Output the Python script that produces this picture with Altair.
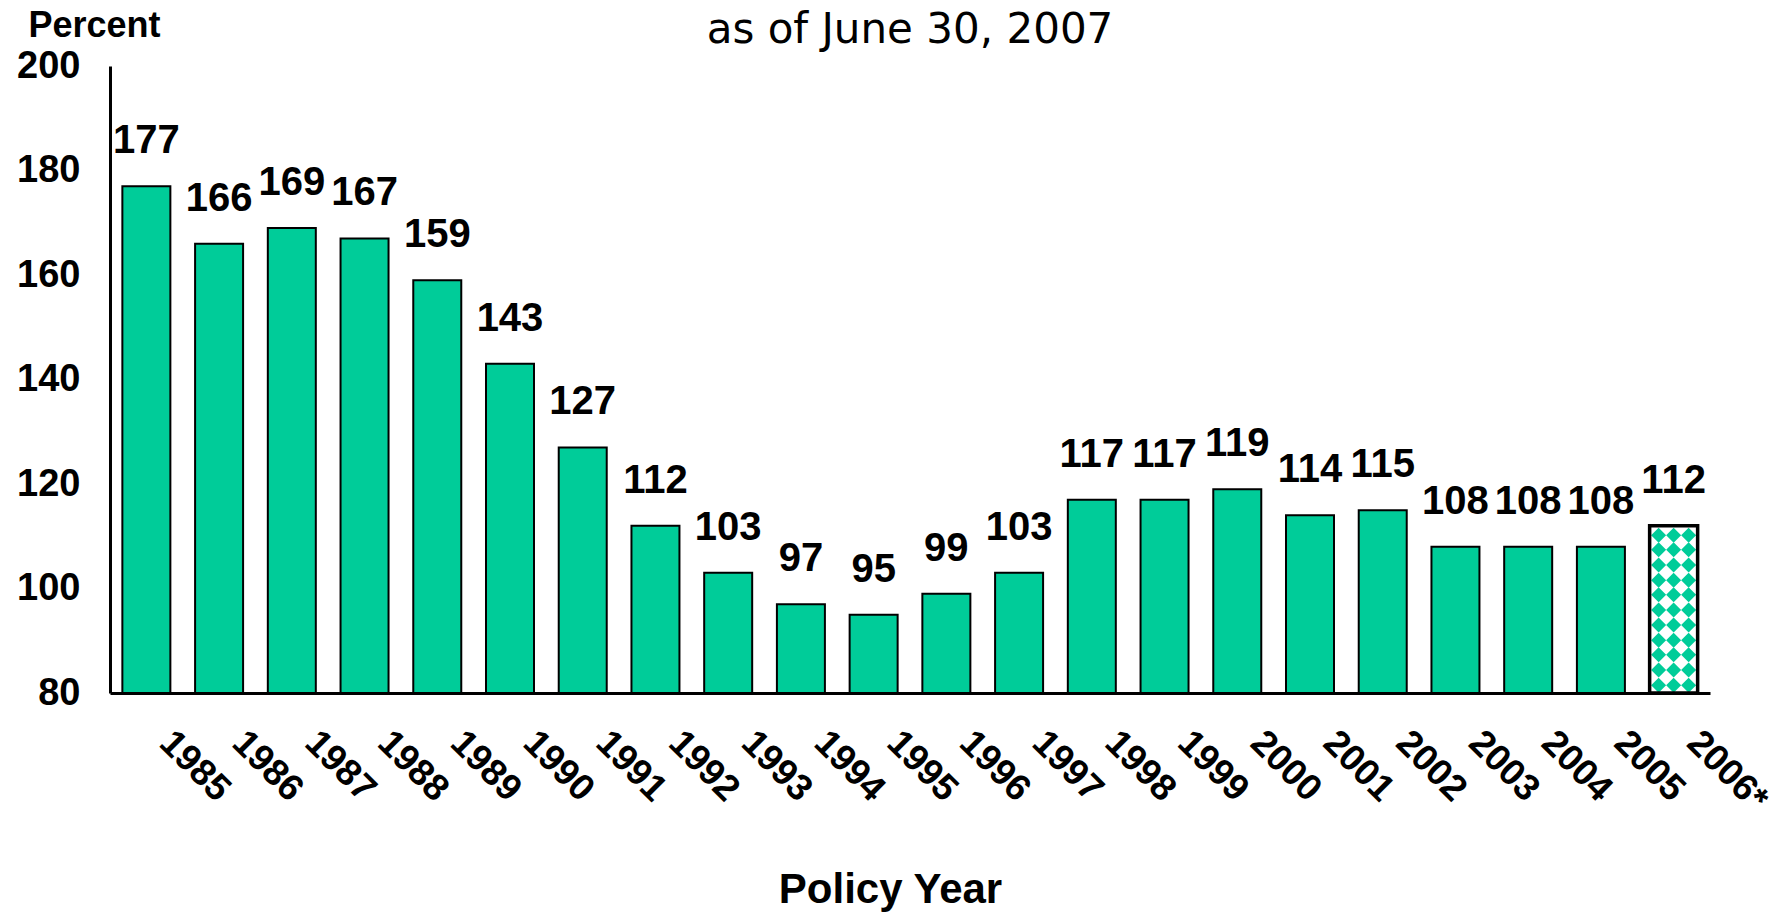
import altair as alt
import pandas as pd

years = ["1985", "1986", "1987", "1988", "1989", "1990", "1991", "1992", "1993", "1994",
         "1995", "1996", "1997", "1998", "1999", "2000", "2001", "2002", "2003", "2004",
         "2005", "2006*"]
values = [177, 166, 169, 167, 159, 143, 127, 112, 103, 97,
          95, 99, 103, 117, 117, 119, 114, 115, 108, 108,
          108, 112]
y_ticks = [80, 100, 120, 140, 160, 180, 200]

# decorative diamond pattern rows for the preliminary (2006*) bar
pattern_rows = [81.5, 84.4, 87.3, 90.1, 93.0, 95.9, 98.8, 101.6, 104.5, 107.4, 110.2]
pattern_cols = [-15, 0, 15]

TEAL = "#00CC99"
FONT = "Liberation Sans"
BASE = 80

df = pd.DataFrame({"year": years, "value": values})
df["prelim"] = df["year"].str.endswith("*")
pat = pd.DataFrame({"year": ["2006*"] * len(pattern_rows), "y": pattern_rows})

x_enc = alt.X(
    "year:N", sort=years,
    scale=alt.Scale(paddingInner=0.34, paddingOuter=0.17),
    axis=alt.Axis(
        title="Policy Year", titleFont=FONT, titleFontSize=42, titleFontWeight="bold",
        titleColor="black", titleAlign="center", titleBaseline="alphabetic",
        titleX=780, titleY=209, titleAnchor="middle",
        labelAngle=45, labelAlign="left", labelBaseline="top", labelPadding=31,
        labelOffset=32, labelFont=FONT, labelFontSize=37, labelFontWeight="bold",
        labelColor="black", ticks=False, domainColor="black", domainWidth=3,
        labelOverlap=False,
    ),
)
y_scale = alt.Scale(domain=[80, 200], nice=False, zero=False)
y_axis = alt.Axis(
    values=y_ticks, title="Percent", titleAngle=0, titleAlign="left",
    titleBaseline="alphabetic", titleX=-82, titleY=-30, titleFont=FONT,
    titleFontSize=36, titleFontWeight="bold", titleColor="black",
    labelFont=FONT, labelFontSize=38, labelFontWeight="bold", labelColor="black",
    labelPadding=30, ticks=False, grid=False, domainColor="black", domainWidth=3,
)

bars = alt.Chart(df).mark_bar(stroke="black", strokeWidth=2).encode(
    x=x_enc,
    y=alt.Y("value:Q", scale=y_scale, axis=y_axis),
    y2=alt.datum(BASE),
    fill=alt.condition("datum.prelim", alt.value("white"), alt.value(TEAL)),
)

diamonds = [
    alt.Chart(pat).mark_point(shape="diamond", filled=True, size=225, color=TEAL,
                              opacity=1, xOffset=o).encode(
        x=alt.X("year:N", sort=years), y=alt.Y("y:Q", scale=y_scale))
    for o in pattern_cols
]

outline = alt.Chart(df).transform_filter("datum.prelim").mark_bar(
    fill="transparent", stroke="black", strokeWidth=3.5).encode(
    x=alt.X("year:N", sort=years), y=alt.Y("value:Q", scale=y_scale),
    y2=alt.datum(BASE))

labels = alt.Chart(df).mark_text(
    font=FONT, fontSize=40, fontWeight="bold", color="black",
    baseline="alphabetic", dy=-33).encode(
    x=alt.X("year:N", sort=years), y=alt.Y("value:Q", scale=y_scale),
    text=alt.Text("value:Q"))

chart = alt.layer(bars, *diamonds, outline, labels).properties(
    width=1600, height=627,
    background="white",
    title=alt.TitleParams("as of June 30, 2007", font="DejaVu Sans", fontSize=42,
                          fontWeight="normal", color="black", anchor="middle",
                          baseline="alphabetic", offset=21, dy=99),
    autosize=alt.AutoSizeParams(type="none"),
    padding={"left": 110, "top": 66, "right": 72, "bottom": 220},
).configure_view(strokeWidth=0, stroke="transparent")

chart.save("out.html", embed_options={"renderer": "svg", "actions": False})
